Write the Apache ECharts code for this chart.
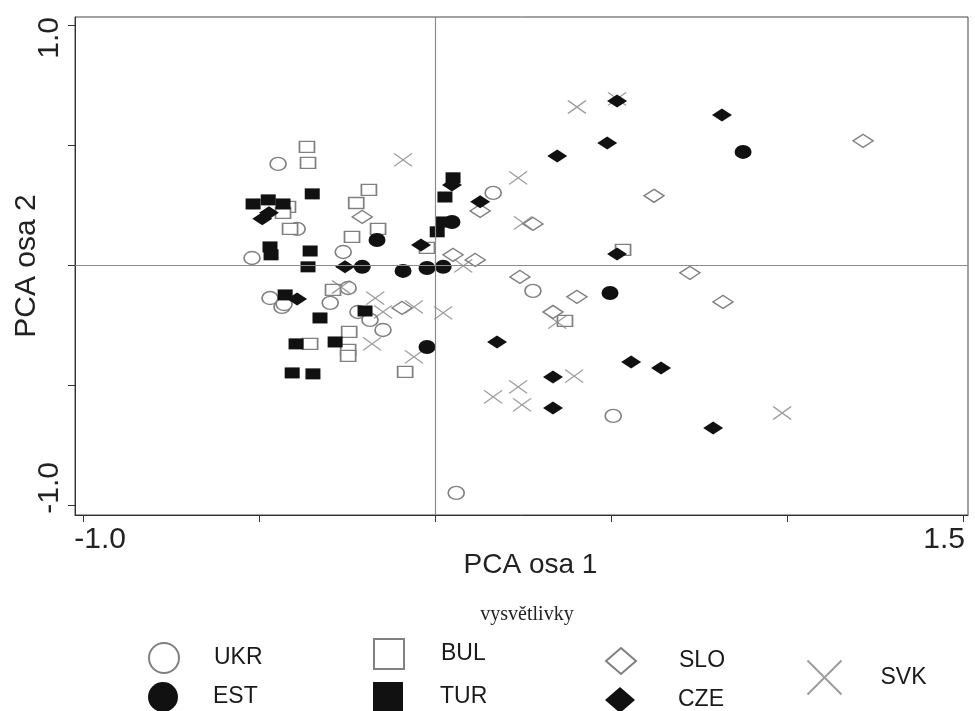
<!DOCTYPE html>
<html><head><meta charset="utf-8">
<script src="https://cdn.jsdelivr.net/npm/echarts@6/dist/echarts.min.js"></script>
<style>html,body{margin:0;padding:0;background:#fff}#c{width:975px;height:711px}</style>
</head><body><div id="c"></div>
<script>
// ---- data (PCA osa 1, PCA osa 2) ----
const ukr = [[-0.446,0.421],[-0.520,0.029],[-0.392,0.150],[-0.261,0.054],[-0.469,-0.138],[-0.435,-0.175],[-0.429,-0.163],[-0.298,-0.158],[-0.247,-0.096],[-0.219,-0.196],[-0.185,-0.229],[-0.148,-0.271],[0.165,0.300],[0.278,-0.108],[0.506,-0.629],[0.060,-0.950]];
const est = [[0.875,0.471],[0.497,-0.117],[-0.023,-0.342],[-0.165,0.104],[-0.207,-0.008],[-0.091,-0.025],[-0.023,-0.013],[0.023,-0.008],[0.048,0.179]];
const bul = [[-0.364,0.492],[-0.361,0.425],[-0.188,0.313],[-0.224,0.258],[-0.162,0.150],[-0.236,0.117],[-0.418,0.242],[-0.432,0.217],[-0.412,0.150],[-0.023,0.071],[0.534,0.063],[0.369,-0.233],[-0.290,-0.104],[-0.355,-0.329],[-0.244,-0.279],[-0.247,-0.354],[-0.247,-0.379],[-0.085,-0.446]];
const tur = [[-0.517,0.254],[-0.474,0.271],[-0.432,0.254],[-0.349,0.296],[-0.469,0.075],[-0.466,0.042],[-0.355,0.058],[-0.361,-0.008],[-0.426,-0.125],[-0.327,-0.221],[-0.395,-0.329],[-0.284,-0.321],[-0.199,-0.192],[-0.406,-0.450],[-0.347,-0.454],[0.028,0.283],[0.006,0.138],[0.023,0.179],[0.051,0.363]];
const slo = [[1.216,0.517],[0.622,0.288],[0.724,-0.033],[0.818,-0.154],[0.403,-0.133],[0.335,-0.196],[0.241,-0.050],[0.128,0.225],[0.278,0.171],[0.051,0.042],[0.114,0.021],[-0.207,0.200],[-0.094,-0.179]];
const cze = [[0.517,0.683],[0.815,0.625],[0.489,0.508],[0.347,0.454],[0.128,0.263],[0.048,0.333],[-0.040,0.083],[-0.256,-0.008],[-0.491,0.192],[-0.472,0.217],[-0.392,-0.142],[0.517,0.046],[0.176,-0.321],[0.557,-0.404],[0.642,-0.429],[0.335,-0.467],[0.335,-0.596],[0.790,-0.679]];
const svk = [[0.403,0.658],[0.517,0.692],[-0.091,0.438],[0.236,0.363],[0.250,0.175],[0.080,-0.004],[0.023,-0.200],[0.347,-0.238],[0.395,-0.463],[0.236,-0.508],[0.165,-0.550],[0.247,-0.583],[0.986,-0.617],[-0.267,-0.092],[-0.170,-0.138],[-0.148,-0.196],[-0.060,-0.175],[-0.179,-0.329],[-0.060,-0.383]];

const xTicks = [-1.0,-0.5,0,0.5,1.0,1.5];
const xTickLabels = [-1.0,1.5];
const yTicks = [-1.0,-0.5,0,0.5,1.0];
const yTickLabels = [-1.0,1.0];
const xRange = [-1.023,1.514];
const yRange = [-1.042,1.033];

const FONT = 'Liberation Sans, Arial, sans-serif';
const GRAY = '#808080';
const BLACK = '#111111';
const crossPath = 'path://M0,0L10,10M10,0L0,10';

function mk(name, data, symbol, size, filled) {
  return {
    name, type:'scatter', data, symbol, symbolSize:size,
    itemStyle: filled ? {color:BLACK, borderColor:BLACK, borderWidth:0, opacity:1}
                      : {color:'#ffffff', borderColor:GRAY, borderWidth:1.5, opacity:1},
    emphasis:{disabled:true}
  };
}

const series = [
  Object.assign(mk('UKR', ukr, 'circle', [16,13], false), {
    markLine:{silent:true, symbol:'none', label:{show:false},
      lineStyle:{color:'#8c8c8c', width:1.2, type:'solid'},
      data:[{xAxis:0},{yAxis:0}]}
  }),
  mk('BUL', bul, 'rect', [15,11], false),
  mk('SLO', slo, 'diamond', [20,13], false),
  {name:'SVK', type:'scatter', data:svk, symbol:crossPath, symbolSize:[18,13],
   itemStyle:{color:'none', borderColor:'#858585', borderWidth:1.3}, emphasis:{disabled:true}},
  mk('EST', est, 'circle', [17,14], true),
  mk('TUR', tur, 'rect', [15,11], true),
  mk('CZE', cze, 'diamond', [20,13], true)
];

function leg(name, left, top, w, h, pad) {
  return {data:[name], left, top, padding:0, itemWidth:w, itemHeight:h, selectedMode:false,
    textStyle:{fontFamily:FONT, fontSize:23, color:'#1a1a1a', padding:[0,0,0,pad]}};
}

const option = {
  animation:false,
  backgroundColor:'#ffffff',
  title:{text:'vysvětlivky', left:522, top:600, textAlign:'center',
    textStyle:{fontFamily:'Liberation Serif, Times New Roman, serif', fontSize:20, fontWeight:'normal', color:'#222'}},
  grid:{left:75, right:7, top:17, bottom:196, show:true, borderColor:'#444', borderWidth:1, outerBoundsMode:'none', containLabel:false},
  legend:[
    leg('UKR', 148, 642, 30, 30, 30),
    leg('EST', 148, 682, 30, 30, 30),
    leg('BUL', 373, 638, 30, 30, 32),
    leg('TUR', 373, 682, 30, 30, 32),
    leg('SLO', 605, 647, 30, 26, 38),
    leg('CZE', 605, 687, 30, 26, 38),
    leg('SVK', 805, 658, 34, 34, 34)
  ],
  xAxis:{
    type:'value', min:xRange[0], max:xRange[1],
    axisLine:{show:true, onZero:false, lineStyle:{color:'#333', width:1}},
    axisTick:{show:true, customValues:xTicks, length:7, lineStyle:{color:'#333'}},
    axisLabel:{customValues:xTickLabels, margin:10, color:'#222', fontFamily:FONT, fontSize:30,
      formatter:(v)=> v < 0 ? '{l|' + v.toFixed(1) + '}' : '{r|' + v.toFixed(1) + '}',
      rich:{l:{fontFamily:FONT, fontSize:30, color:'#222', padding:[0,0,0,34]},
            r:{fontFamily:FONT, fontSize:30, color:'#222', padding:[0,38,0,0]}}},
    splitLine:{show:false},
    name:'PCA osa 1', nameLocation:'middle', nameGap:36, nameMoveOverlap:false,
    nameTextStyle:{fontFamily:FONT, fontSize:28, color:'#222', padding:[0,0,0,18]}
  },
  yAxis:{
    type:'value', min:yRange[0], max:yRange[1],
    axisLine:{show:true, onZero:false, lineStyle:{color:'#333', width:1}},
    axisTick:{show:true, customValues:yTicks, length:7, lineStyle:{color:'#333'}},
    axisLabel:{customValues:yTickLabels, rotate:90, margin:10, color:'#222', fontFamily:FONT, fontSize:30,
      formatter:(v)=> v > 0 ? '{t|' + v.toFixed(1) + '}' : '{b|' + v.toFixed(1) + '}',
      rich:{t:{fontFamily:FONT, fontSize:30, color:'#222', padding:[0,26,0,0]},
            b:{fontFamily:FONT, fontSize:30, color:'#222', padding:[0,0,0,34]}}},
    splitLine:{show:false},
    name:'PCA osa 2', nameLocation:'middle', nameGap:33, nameMoveOverlap:false,
    nameTextStyle:{fontFamily:FONT, fontSize:30, color:'#222'}
  },
  series
};
const chart = echarts.init(document.getElementById('c'), null, {renderer:'canvas'});
chart.setOption(option);
</script>
</body></html>
